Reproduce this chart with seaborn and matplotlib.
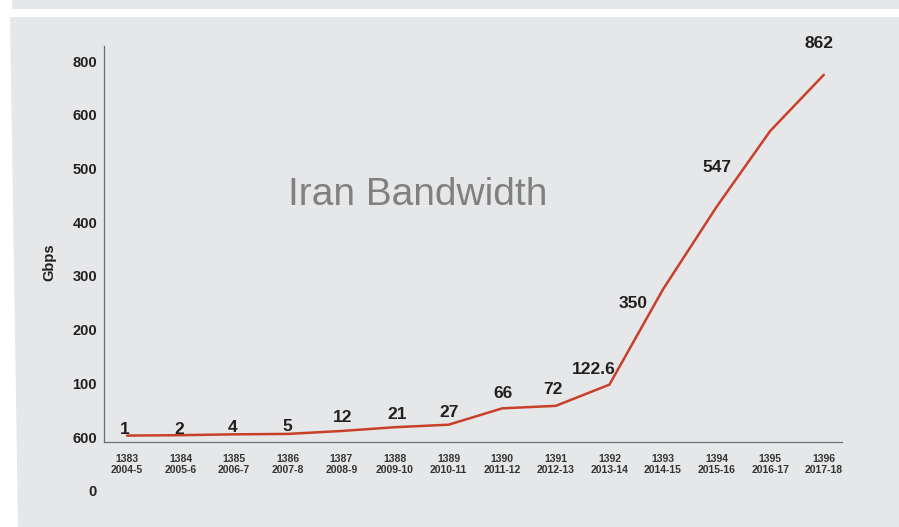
import numpy as np
import pandas as pd
import matplotlib
matplotlib.use("Agg")
import matplotlib.pyplot as plt
from matplotlib.patches import Polygon
import seaborn as sns

# Iranian (solar hijri) years and matching Gregorian spans
persian_years = ["1383", "1384", "1385", "1386", "1387", "1388", "1389",
                 "1390", "1391", "1392", "1393", "1394", "1395", "1396"]
gregorian_years = ["2004-5", "2005-6", "2006-7", "2007-8", "2008-9", "2009-10",
                   "2010-11", "2011-12", "2012-13", "2013-14", "2014-15",
                   "2015-16", "2016-17", "2017-18"]
# International bandwidth, Gbps
bandwidth_gbps = [1, 2, 4, 5, 12, 21, 27, 66, 72, 122.6, 350, 547, 728, 862]
value_labelled = [True, True, True, True, True, True, True,
                  True, True, True, True, True, False, True]
# y-axis tick texts, bottom to top
y_tick_labels = ["0", "600", "100", "200", "300", "400", "500", "600", "800"]
chart_title = "Iran Bandwidth"
y_title = "Gbps"

sns.set_style("white")
plt.rcParams["font.family"] = ["Liberation Sans", "DejaVu Sans"]

W, H = 899, 527
fig = plt.figure(figsize=(W / 100, H / 100), dpi=100)
fig.patch.set_facecolor("white")


def fp(x, y):
    return (x / W, 1 - y / H)


panel_grey = "#e6e7e8"
fig.patches.append(Polygon([fp(12, 0), fp(W, 0), fp(W, 9), fp(12, 9)],
                           closed=True, transform=fig.transFigure,
                           facecolor=panel_grey, edgecolor="none", zorder=-10))
fig.patches.append(Polygon([fp(10, 17), fp(W, 17), fp(W, H), fp(18, H)],
                           closed=True, transform=fig.transFigure,
                           facecolor=panel_grey, edgecolor="none", zorder=-10))

ax = fig.add_axes([104 / W, 1 - 442 / H, 738 / W, 396 / H])
ax.patch.set_visible(False)

# line drawn on its own value scale
ax2 = ax.twinx()
ax2.patch.set_visible(False)
df = pd.DataFrame({"pos": np.arange(len(persian_years)), "gbps": bandwidth_gbps})
sns.lineplot(data=df, x="pos", y="gbps", ax=ax2, color="#c8402a",
             linewidth=1.8, solid_joinstyle="miter")
ax2.set_ylim(-14.3, 930.8)
ax2.set_yticks([])
ax2.set_ylabel("")
for s in ax2.spines.values():
    s.set_visible(False)

value_label_offsets = [(-2, 2), (-1, 1), (-2, 2), (-1, 3), (1, 9), (2, 8),
                       (0, 8), (1, 10), (-3, 12), (-16, 11), (-30, -19),
                       (0, 35), (0, 0), (-5, 27)]
for i, (v, show) in enumerate(zip(bandwidth_gbps, value_labelled)):
    if not show:
        continue
    ax2.annotate(f"{v:g}", xy=(i, v), xytext=value_label_offsets[i],
                 textcoords="offset pixels", ha="center", va="baseline",
                 fontsize=12.5, fontweight="bold", color="#231f20")

# axis frame and ticks
ax.set_xlim(-0.43, 13.34)
ax.set_ylim(-9.3, 728)
tick_vals = np.arange(-100, 800, 100)
ax.set_yticks(tick_vals[1:])
ax.set_yticklabels(y_tick_labels[1:])
ax.annotate(y_tick_labels[0], xy=(0, tick_vals[0]),
            xycoords=("axes fraction", "data"), xytext=(-7, 0),
            textcoords="offset pixels", ha="right", va="center_baseline",
            fontsize=10.5, fontweight="bold", color="#231f20",
            annotation_clip=False)
ax.set_xticks(np.arange(len(persian_years)))
ax.set_xticklabels([f"{p}\n{g}" for p, g in zip(persian_years, gregorian_years)],
                   linespacing=1.05)
ax.tick_params(axis="y", length=0, pad=5, labelsize=10.5, labelcolor="#231f20")
ax.tick_params(axis="x", length=0, pad=9, labelsize=7.5, labelcolor="#333333")
for lbl in ax.get_yticklabels() + ax.get_xticklabels():
    lbl.set_fontweight("bold")
for side in ["top", "right"]:
    ax.spines[side].set_visible(False)
for side in ["left", "bottom"]:
    ax.spines[side].set_color("#6d6e71")
    ax.spines[side].set_linewidth(0.9)
ax.set_xlabel("")
ax.set_ylabel(y_title, fontsize=10.5, fontweight="bold", color="#231f20")
ax.yaxis.set_label_coords(-0.065, 0.4545)

fig.text(418 / W, 1 - 205 / H, chart_title, ha="center", va="baseline",
         fontsize=28, color="#808080")

fig.savefig("out.png", dpi=100)
